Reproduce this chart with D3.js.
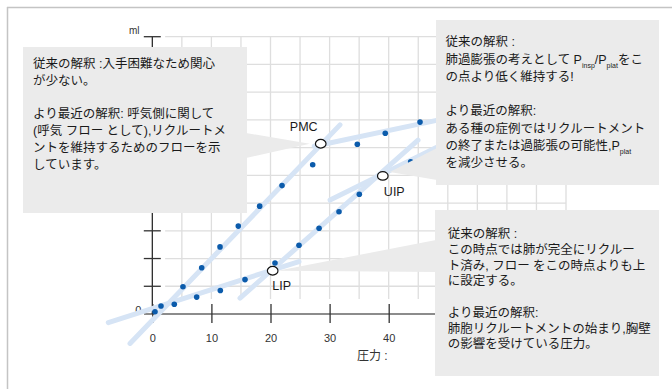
<!DOCTYPE html>
<html><head><meta charset="utf-8">
<script src="https://cdn.jsdelivr.net/npm/d3@7"></script>
<style>
html,body{margin:0;padding:0;background:#fff;}
svg{display:block;font-family:"Liberation Sans",Arial,"Noto Sans CJK JP",sans-serif;}
</style></head><body>
<svg id="chart" width="672" height="389"></svg>
<script>
// ---------- data ----------
const xTicks = [0, 10, 20, 30, 40];
const yTicks = [1, 2, 3, 4, 5, 6, 7, 8, 9, 10];
const gridXValues = [5, 10, 15, 20, 25, 30, 35, 40, 45, 50, 55, 60, 65, 70];
const gridYValues = [1, 2, 3, 4, 5, 6, 7, 8, 9, 10];

// inflation limb (pressure, volume)
const inflationP = [0.46, 1.47, 3.72, 7.51, 11.51, 15.69, 20.76, 24.82, 28.22, 31.59, 35.03, 43.72];
const inflationV = [0.08, 0.29, 0.35, 0.61, 0.85, 1.24, 1.84, 2.48, 3.09, 3.69, 4.32, 5.49];
// deflation limb
const deflationP = [5.19, 8.36, 11.46, 14.55, 18.17, 21.95, 27.14, 34.69, 39.42, 45.3];
const deflationV = [0.98, 1.67, 2.42, 3.17, 3.89, 4.63, 5.38, 6.12, 6.52, 6.92];

// key points
const keyNames = ["PMC", "UIP", "LIP"];
const keyP = [28.5, 39.0, 20.37];
const keyV = [6.14, 4.98, 1.56];

// fitted straight segments (start P, start V, end P, end V)
const fitStartP = [-3.77, -7.45, 14.84, 30.08, 27.4];
const fitStartV = [-1.06, -0.31, 0.57, 4.11, 6.05];
const fitEndP   = [31.76, 24.82, 44.96, 48.5, 48.5];
const fitEndV   = [6.82, 1.89, 6.27, 6.05, 7.0];

const xAxisTitle = "圧力 :";
const yAxisTitle = "ml";

const box1Lines = ["従来の解釈 :入手困難なため関心", "が少ない。", "", "より最近の解釈: 呼気側に関して",
  "(呼気 フロー として),リクルートメ", "ントを維持するためのフローを示", "しています。"];
const box2Lines = ["従来の解釈 :", "肺過膨張の考えとして P_{insp}/P_{plat}をこ", "の点より低く維持する!", "",
  "より最近の解釈:", "ある種の症例ではリクルートメント", "の終了または過膨張の可能性,P_{plat}", "を減少させる。"];
const box3Lines = ["従来の解釈 :", "この時点では肺が完全にリクルー", "ト済み, フロー をこの時点よりも上", "に設定する。", "",
  "より最近の解釈:", "肺胞リクルートメントの始まり,胸壁", "の影響を受けている圧力。"];

// ---------- drawing ----------
const svg = d3.select("#chart");
const x = d3.scaleLinear().domain([0, 70]).range([152.3, 566]);
const y = d3.scaleLinear().domain([0, 10]).range([314, 36.7]);

// outer frame
svg.append("line").attr("x1", 7.5).attr("x2", 7.5).attr("y1", 7).attr("y2", 389).attr("stroke", "#c4c4c4").attr("stroke-width", 1.5);
svg.append("line").attr("x1", 7).attr("x2", 672).attr("y1", 7.5).attr("y2", 7.5).attr("stroke", "#c4c4c4").attr("stroke-width", 1.5);

// grid
const grid = svg.append("g").attr("stroke", "#dedede").attr("stroke-width", 1.3);
grid.selectAll(".gx").data(gridXValues).join("line")
  .attr("x1", d => x(d)).attr("x2", d => x(d)).attr("y1", y(0.54)).attr("y2", y(10));
grid.selectAll(".gy").data(gridYValues).join("line")
  .attr("x1", x(2.17)).attr("x2", x(70)).attr("y1", d => y(d)).attr("y2", d => y(d));

// axes
const axisCol = "#1a1a1a";
svg.append("line").attr("x1", x(-1.4)).attr("x2", x(70)).attr("y1", y(0)).attr("y2", y(0)).attr("stroke", axisCol).attr("stroke-width", 1.2);
svg.append("line").attr("x1", x(0)).attr("x2", x(0)).attr("y1", y(0)).attr("y2", y(10)).attr("stroke", axisCol).attr("stroke-width", 1.2);

const xAxis = svg.append("g").attr("transform", `translate(0,${y(0)})`)
  .call(d3.axisBottom(x).tickValues(xTicks).tickSize(9).tickPadding(11).tickFormat(d3.format("d")));
xAxis.select(".domain").remove();
xAxis.selectAll(".tick line").attr("y1", -10).attr("stroke", "#333").attr("stroke-width", 1.3);
xAxis.selectAll(".tick text").attr("font-size", 11).attr("fill", "#333")
  .attr("font-family", "Liberation Sans, Arial, sans-serif");

svg.append("g").selectAll("line").data(yTicks).join("line")
  .attr("x1", x(0) - 8.5).attr("x2", x(0) + 8.5).attr("y1", d => y(d)).attr("y2", d => y(d))
  .attr("stroke", "#333").attr("stroke-width", 1.3);
svg.append("text").attr("x", x(0) - 11).attr("y", y(0) - 0.5).attr("text-anchor", "end")
  .attr("font-size", 11).attr("fill", "#333").text("0");
svg.append("text").attr("x", x(0) - 18).attr("y", y(10) - 3).attr("text-anchor", "middle")
  .attr("font-size", 10).attr("fill", "#333").text(yAxisTitle);
svg.append("text").attr("x", 357).attr("y", 359.5).attr("font-size", 12).attr("fill", "#333").text(xAxisTitle);

// fitted lines
svg.append("g").selectAll("line").data(fitStartP).join("line")
  .attr("x1", (d, i) => x(fitStartP[i])).attr("y1", (d, i) => y(fitStartV[i]))
  .attr("x2", (d, i) => x(fitEndP[i])).attr("y2", (d, i) => y(fitEndV[i]))
  .attr("stroke", "#d6e4f5").attr("stroke-width", 5).attr("stroke-linecap", "round");

// points
const dotCol = "#0b5bab";
svg.append("g").selectAll("circle").data(inflationP).join("circle")
  .attr("cx", (d, i) => x(inflationP[i])).attr("cy", (d, i) => y(inflationV[i])).attr("r", 2.8).attr("fill", dotCol);
svg.append("g").selectAll("circle").data(deflationP).join("circle")
  .attr("cx", (d, i) => x(deflationP[i])).attr("cy", (d, i) => y(deflationV[i])).attr("r", 2.8).attr("fill", dotCol);

// key markers
svg.append("g").selectAll("ellipse").data(keyNames).join("ellipse")
  .attr("cx", (d, i) => x(keyP[i])).attr("cy", (d, i) => y(keyV[i])).attr("rx", 5.3).attr("ry", 4.3)
  .attr("fill", "#fff").attr("stroke", "#111").attr("stroke-width", 1.2);
const keyLabelDx = [-17, 11.5, 9];
const keyLabelDy = [-13, 20, 19];
svg.append("g").selectAll("text").data(keyNames).join("text")
  .attr("x", (d, i) => x(keyP[i]) + keyLabelDx[i]).attr("y", (d, i) => y(keyV[i]) + keyLabelDy[i])
  .attr("text-anchor", "middle").attr("font-size", 12.5).attr("fill", "#1a1a1a").text(d => d);

// callout boxes
const boxFill = "#ebebeb";
function pos(i) { return [x(keyP[i]), y(keyV[i])]; }
function wedge(points) {
  svg.append("polygon").attr("points", points.map(p => p.join(",")).join(" ")).attr("fill", boxFill);
}
const pmc = pos(0), uip = pos(1), lip = pos(2);
wedge([[246, 133], [pmc[0] - 11, pmc[1]], [246, 158]]);
wedge([[437, 148], [uip[0] + 7, uip[1] - 4], [437, 180]]);
wedge([[436, 240], [lip[0] + 5, lip[1]], [436, 272]]);

function box(x0, y0, w, h, lines, tx, ty, lh) {
  svg.append("rect").attr("x", x0).attr("y", y0).attr("width", w).attr("height", h).attr("fill", boxFill);
  const t = svg.append("text").attr("font-size", 12.5).attr("fill", "#1a1a1a");
  lines.forEach((ln, i) => {
    const parts = ln.split(/(_\{[^}]*\})/).filter(s => s.length);
    let first = true;
    let lowered = false;
    parts.forEach(p => {
      const ts = t.append("tspan");
      if (first) { ts.attr("x", tx).attr("y", ty + i * lh); first = false; }
      if (p.startsWith("_{")) {
        ts.text(p.slice(2, -1)).attr("font-size", 7).attr("dy", lowered ? 0 : 4);
        lowered = true;
      } else {
        ts.text(p);
        if (lowered) { ts.attr("dy", -4); lowered = false; }
      }
    });
  });
}
box(23, 47, 224, 166, box1Lines, 33, 68, 16.8);
box(436, 20, 223, 165, box2Lines, 445.5, 46.3, 17.25);
box(435, 210, 224, 166, box3Lines, 447.7, 238, 15.75);
</script>
</body></html>
